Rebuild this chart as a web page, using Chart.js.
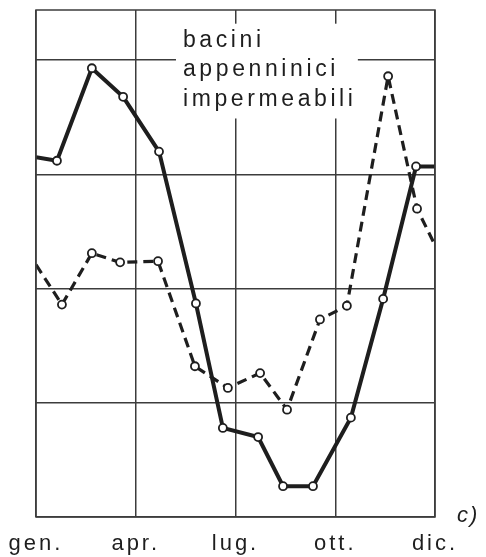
<!DOCTYPE html>
<html>
<head>
<meta charset="utf-8">
<script src="https://cdn.jsdelivr.net/npm/chart.js@4"></script>
<style>
  html, body { margin: 0; padding: 0; background: #fff; }
  #wrap { width: 486px; height: 557px; }
</style>
</head>
<body>
<div id="wrap"><canvas id="myChart"></canvas></div>
<script>
// month positions (0 = start of gen., 12 = end of dic.) and values
var solidMonths = [0, 0.63, 1.68, 2.62, 3.70, 4.81, 5.62, 6.68, 7.43, 8.33, 9.47, 10.44, 11.43, 12];
var solidValues = [3.15, 3.12, 3.93, 3.68, 3.20, 1.87, 0.78, 0.70, 0.27, 0.27, 0.87, 1.91, 3.07, 3.07];
var dashedMonths = [0, 0.78, 1.68, 2.53, 3.67, 4.78, 5.77, 6.74, 7.55, 8.54, 9.35, 10.59, 11.46, 12];
var dashedValues = [2.21, 1.86, 2.31, 2.23, 2.24, 1.32, 1.13, 1.26, 0.94, 1.73, 1.85, 3.86, 2.70, 2.38];

var tickMonths = [0, 3, 6, 9, 12];
var tickLabels = ['gen.', 'apr.', 'lug.', 'ott.', 'dic.'];
var boxLines = ['bacini', 'appenninici', 'impermeabili'];
var panelLabel = 'c)';

function toPoints(xs, ys) {
    return xs.map(function (x, i) { return { x: x, y: ys[i] } })
}
// the ends are only where the yearly curve wraps round, no circle there
function radii(xs) {
    return xs.map(function (x, i) { return (i === 0 || i === xs.length - 1) ? 0 : 4 })
}

var ink = '#1e1e1e';
var gridInk = '#3c3c3c';

var textPlugin = {
    id: 'textPlugin',
    beforeDraw: function (chart) {
        chart.ctx.letterSpacing = '3px';
    },
    beforeDatasetsDraw: function (chart) {
        var ctx = chart.ctx, xs = chart.scales.x, ys = chart.scales.y;
        // white box that interrupts the grid behind the caption
        var x0 = xs.getPixelForValue(4.21), x1 = xs.getPixelForValue(9.68);
        var y0 = ys.getPixelForValue(4.32), y1 = ys.getPixelForValue(3.49);
        ctx.save();
        ctx.fillStyle = '#fff';
        ctx.fillRect(x0, y0, x1 - x0, y1 - y0);
        ctx.fillStyle = ink;
        ctx.font = '23px "Liberation Sans", Arial, sans-serif';
        ctx.letterSpacing = '3.6px';
        ctx.textBaseline = 'alphabetic';
        var tx = xs.getPixelForValue(4.42);
        var baselines = [4.12, 3.86, 3.6];
        boxLines.forEach(function (t, i) {
            ctx.fillText(t, tx, ys.getPixelForValue(baselines[i]));
        });
        ctx.restore();
    },
    afterDraw: function (chart) {
        var ctx = chart.ctx, a = chart.chartArea;
        ctx.save();
        ctx.strokeStyle = gridInk;
        ctx.lineWidth = 1.5;
        ctx.strokeRect(a.left, a.top, a.right - a.left, a.bottom - a.top);
        ctx.fillStyle = ink;
        ctx.font = 'italic 22px "Liberation Sans", Arial, sans-serif';
        ctx.letterSpacing = '2px';
        ctx.fillText(panelLabel, a.right + 22, a.bottom + 5);
        ctx.restore();
    }
};

var ctx = document.getElementById('myChart');
var chart = new Chart(ctx, {
    type: 'line',
    data: {
        datasets: [{
            label: 'continua',
            data: toPoints(solidMonths, solidValues),
            borderColor: ink,
            borderWidth: 4,
            pointRadius: radii(solidMonths),
            pointBackgroundColor: '#fff',
            pointBorderColor: ink,
            pointBorderWidth: 1.8,
            tension: 0
        }, {
            label: 'tratteggiata',
            data: toPoints(dashedMonths, dashedValues),
            borderColor: ink,
            borderWidth: 3.2,
            borderDash: [10, 6],
            pointRadius: radii(dashedMonths),
            pointBackgroundColor: '#fff',
            pointBorderColor: ink,
            pointBorderWidth: 1.8,
            tension: 0
        }]
    },
    options: {
        responsive: true,
        maintainAspectRatio: false,
        animation: false,
        events: [],
        layout: { padding: { left: 36, right: 51, top: 10, bottom: 0 } },
        plugins: {
            legend: { display: false },
            tooltip: { enabled: false }
        },
        scales: {
            x: {
                type: 'linear',
                min: 0,
                max: 12,
                afterBuildTicks: function (s) {
                    s.ticks = tickMonths.map(function (v) { return { value: v } });
                },
                afterFit: function (s) { s.height = 40; },
                ticks: {
                    autoSkip: false,
                    maxRotation: 0,
                    padding: 14,
                    color: ink,
                    font: { family: '"Liberation Sans", Arial, sans-serif', size: 22 },
                    callback: function (v) {
                        var i = tickMonths.indexOf(v);
                        return i >= 0 ? tickLabels[i] : '';
                    }
                },
                grid: { color: gridInk, lineWidth: 1.5, drawTicks: false },
                border: { display: false }
            },
            y: {
                min: 0,
                max: 4.44,
                afterBuildTicks: function (s) {
                    s.ticks = [0, 1, 2, 3, 4].map(function (v) { return { value: v } });
                },
                afterFit: function (s) { s.width = 0; },
                ticks: { display: false },
                grid: { color: gridInk, lineWidth: 1.5, drawTicks: false },
                border: { display: false }
            }
        }
    },
    plugins: [textPlugin]
});
</script>
</body>
</html>
